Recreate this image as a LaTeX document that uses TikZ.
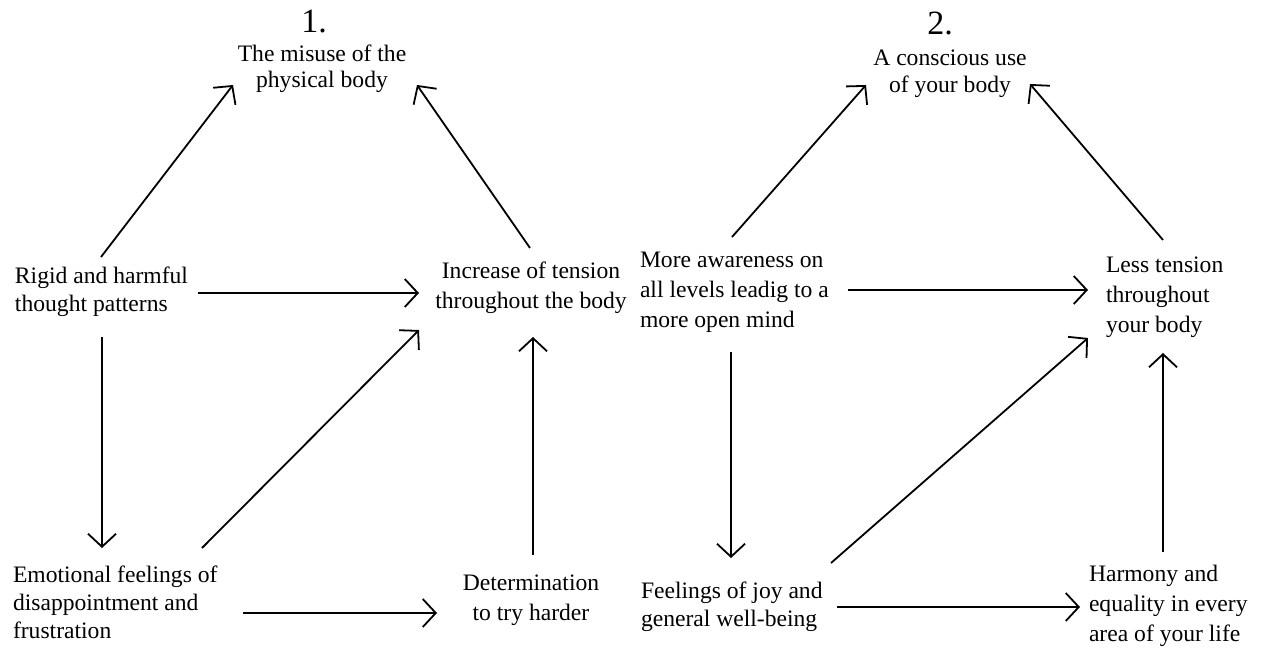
\documentclass[tikz,border=0pt]{standalone}
\usepackage{fontspec}
\setmainfont{Liberation Serif}
\usetikzlibrary{arrows.meta}
\begin{document}
\begin{tikzpicture}[x=1pt,y=-1pt,
  lbl/.style={inner sep=0pt, outer sep=0pt, font=\fontsize{23.6}{#1}\selectfont},
  lleft/.style={lbl=#1, align=left, anchor=base west},
  lcent/.style={lbl=#1, align=center, anchor=base},
  num/.style={inner sep=0pt, outer sep=0pt, font=\fontsize{34}{40}\selectfont, anchor=base},
  arr/.style={line width=1.8pt, -{Straight Barb[length=13pt,width=28pt,line width=1.8pt]}}]
\useasboundingbox[fill=white] (0,0) rectangle (1270,650);
% headings
\node[num] (one) at (314,33) {1.};
\node[num] (two) at (940,35) {2.};
% diagram 1 (anchors at the baseline of the last line)
\node[lcent=26] (misuse) at (322,88) {The misuse of the\\physical body};
\node[lleft=28] (rigid) at (15,311) {Rigid and harmful\\thought patterns};
\node[lcent=30] (increase) at (531,308) {Increase of tension\\throughout the body};
\node[lleft=28] (emotional) at (13,638) {Emotional feelings of\\disappointment and\\frustration};
\node[lcent=30] (determ) at (531,620) {Determination\\to try harder};
% diagram 2
\node[lcent=27] (conscious) at (950,93) {A conscious use\\of your body};
\node[lleft=30] (more) at (640,327) {More awareness on\\all levels leadig to a\\more open mind};
\node[lleft=30] (less) at (1106,332) {Less tension\\throughout\\your body};
\node[lleft=28] (joy) at (641,626) {Feelings of joy and\\general well-being};
\node[lleft=30] (harmony) at (1089,641) {Harmony and\\equality in every\\area of your life};
% connectors diagram 1
\draw[arr] ([shift={(86,-54)}]rigid.base west) -- ([shift={(-89,-3)}]misuse.base);
\draw[arr] ([shift={(-1,-60)}]increase.base) -- ([shift={(95,-3)}]misuse.base);
\draw[arr] ([shift={(183,-18)}]rigid.base west) -- ([shift={(-112,-15)}]increase.base);
\draw[arr] ([shift={(87,26)}]rigid.base west) -- ([shift={(89,-90)}]emotional.base west);
\draw[arr] ([shift={(189,-90)}]emotional.base west) -- ([shift={(-112,22)}]increase.base);
\draw[arr] ([shift={(230,-25)}]emotional.base west) -- ([shift={(-94,-7)}]determ.base);
\draw[arr] ([shift={(2,-65)}]determ.base) -- ([shift={(2,29)}]increase.base);
% connectors diagram 2
\draw[arr] ([shift={(92,-90)}]more.base west) -- ([shift={(-84,-8)}]conscious.base);
\draw[arr] ([shift={(57,-92)}]less.base west) -- ([shift={(80,-9)}]conscious.base);
\draw[arr] ([shift={(208,-37)}]more.base west) -- ([shift={(-18,-42)}]less.base west);
\draw[arr] ([shift={(91,25)}]more.base west) -- ([shift={(90,-68)}]joy.base west);
\draw[arr] ([shift={(190,-63)}]joy.base west) -- ([shift={(-18,6)}]less.base west);
\draw[arr] ([shift={(196,-19)}]joy.base west) -- ([shift={(-9,-34)}]harmony.base west);
\draw[arr] ([shift={(74,-89)}]harmony.base west) -- ([shift={(57,21)}]less.base west);
\end{tikzpicture}
\end{document}
